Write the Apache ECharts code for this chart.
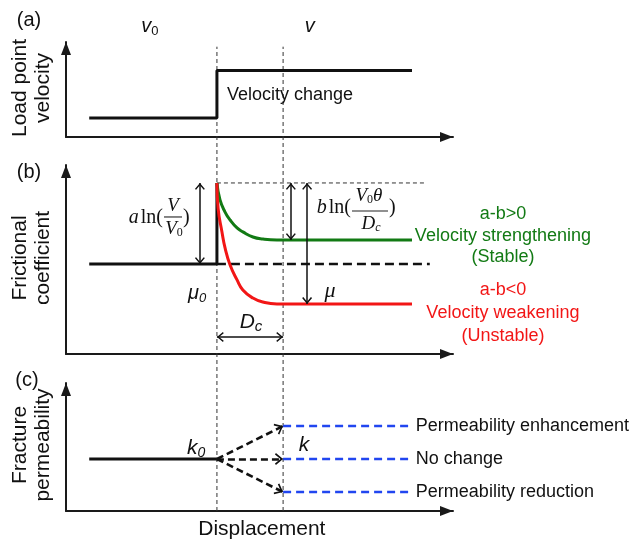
<!DOCTYPE html>
<html><head><meta charset="utf-8">
<script src="https://cdn.jsdelivr.net/npm/echarts@6/dist/echarts.min.js"></script>
<style>html,body{margin:0;padding:0;background:#fff}#c{width:633px;height:543px}</style>
</head><body><div id="c"></div>
<script>
// ---------------- data (schematic values) ----------------
const velocityX = [6, 39, 39, 89.4];
const velocityY = [2, 2, 7, 7];
const frictionBaseX = [6, 39, 39];
const frictionBaseY = [4.76, 4.76, 9.05];
const frictionRefX = [39, 94];
const frictionRefY = [4.76, 4.76];
const peakRefX = [39, 93];
const peakRefY = [9.05, 9.05];
const strengtheningX = [39, 39.8, 41.1, 42.4, 44.2, 45.7, 48.3, 50.9, 54.5, 56.1, 89.4];
const strengtheningY = [9.05, 8.15, 7.51, 7.09, 6.67, 6.46, 6.19, 6.08, 6.03, 6.03, 6.03];
const weakeningX = [39, 39.3, 40.3, 41.1, 42.4, 44.2, 45.7, 48.3, 50.9, 54.5, 56.1, 89.4];
const weakeningY = [9.05, 7.72, 6.46, 5.61, 4.71, 3.92, 3.39, 2.96, 2.75, 2.65, 2.65, 2.65];
const permBaseX = [6, 39];
const permBaseY = [4.06, 4.06];
const permOutcomeNames = ['Permeability enhancement', 'No change', 'Permeability reduction'];
const permOutcomeX = [56.1, 89.4];
const permOutcomeY = [6.64, 4.06, 1.48];
const markerX = [39, 56.1];          // velocity step and Dc
const frictionArrowX = [34.6, 58.1, 62.3];
const dcArrowY = 0.9;

// ---------------- styling ----------------
const GREEN = '#127a14', RED = '#f21616', BLUE = '#2146f0', INK = '#111';
const SANS = '"Liberation Sans", Arial, sans-serif';
const SERIF = '"Liberation Serif", "Times New Roman", serif';
const zip = (xs, ys) => xs.map((x, i) => [x, ys[i]]);
const chev = 'path://M5,-6.8L5,-6.8Z M0,6L5,0L10,6L8.8,6.8L5,2.2L1.2,6.8Z';

const chart = echarts.init(document.getElementById('c'), null, {renderer: 'canvas'});
const grids = [
  {left: 66, top: 42, width: 387, height: 95},
  {left: 66, top: 165, width: 387, height: 189},
  {left: 66, top: 383, width: 387, height: 128},
  {left: 66, top: 42, width: 387, height: 469}
];
const axLine = {show: true, onZero: false, symbol: ['none', 'triangle'], symbolSize: [10, 13], symbolOffset: [0, -6.5],
  lineStyle: {color: '#1a1a1a', width: 2}};
const hidden = {show: false};
const xAxis = grids.map((g, i) => ({gridIndex: i, type: 'value', min: 0, max: 100,
  axisLine: i < 3 ? axLine : hidden, axisTick: hidden, axisLabel: hidden, splitLine: hidden}));
const yAxis = grids.map((g, i) => ({gridIndex: i, type: 'value', min: 0, max: i < 3 ? 10 : 100,
  axisLine: i < 3 ? axLine : hidden, axisTick: hidden, axisLabel: hidden, splitLine: hidden}));

const line = (g, data, color, width, type, extra) => Object.assign({
  type: 'line', xAxisIndex: g, yAxisIndex: g, data, symbol: 'none', silent: true, z: 3,
  lineStyle: {color, width, type: type || 'solid', cap: 'butt'}
}, extra || {});

const peak = frictionBaseY[2], base = frictionBaseY[0];
const steadyG = strengtheningY[strengtheningY.length - 1], steadyR = weakeningY[weakeningY.length - 1];

const series = [
  // vertical markers across all panels
  line(3, [[markerX[0], 0], [markerX[0], 99]], '#333', 1, [4, 3], {z: 1}),
  line(3, [[markerX[1], 0], [markerX[1], 99]], '#333', 1, [4, 3], {z: 1}),
  // (a)
  line(0, zip(velocityX, velocityY), INK, 3),
  // (b)
  line(1, zip(frictionRefX, frictionRefY), INK, 2.6, [9, 5]),
  line(1, zip(peakRefX, peakRefY), '#333', 1, [4, 3], {
    markLine: {silent: true, symbol: [chev, chev], symbolSize: [10, 13.6], label: {show: false},
      lineStyle: {color: INK, width: 1.5, type: 'solid'}, emphasis: {disabled: true},
      data: [
        [{coord: [frictionArrowX[0], peak]}, {coord: [frictionArrowX[0], base]}],
        [{coord: [frictionArrowX[1], peak]}, {coord: [frictionArrowX[1], steadyG]}],
        [{coord: [frictionArrowX[2], peak]}, {coord: [frictionArrowX[2], steadyR]}],
        [{coord: [markerX[0], dcArrowY]}, {coord: [markerX[1], dcArrowY]}]
      ]}
  }),
  line(1, zip(frictionBaseX, frictionBaseY), INK, 3),
  line(1, zip(strengtheningX, strengtheningY), GREEN, 3, 'solid', {smooth: 0.5}),
  line(1, zip(weakeningX, weakeningY), RED, 3, 'solid', {smooth: 0.5}),
  // (c)
  line(2, zip(permBaseX, permBaseY), INK, 3, 'solid', {
    markLine: {silent: true, symbol: ['none', chev], symbolSize: [12, 16.3], label: {show: false},
      lineStyle: {color: INK, width: 2.6, type: [7, 4]}, emphasis: {disabled: true},
      data: permOutcomeY.map(y => [{coord: [permBaseX[1], permBaseY[1]]}, {coord: [permOutcomeX[0], y]}])}
  }),
  ...permOutcomeY.map(y => line(2, [[permOutcomeX[0], y], [permOutcomeX[1], y]], BLUE, 2.6, [8, 5]))
];

chart.setOption({animation: false, grid: grids, xAxis, yAxis, series});

// ---------------- text annotations ----------------
const P = (g, x, y) => chart.convertToPixel({xAxisIndex: g, yAxisIndex: g}, [x, y]);
const mctx = document.createElement('canvas').getContext('2d');
function measure(p) {
  mctx.font = (p.it ? 'italic ' : '') + p.size + 'px ' + (p.fam || SANS);
  return mctx.measureText(p.t).width;
}
function runs(cx, cy, parts, anchor, fill) {
  const ws = parts.map(p => measure(p) + (p.dx || 0));
  const total = ws.reduce((a, b) => a + b, 0);
  let x = anchor === 'right' ? cx - total : anchor === 'left' ? cx : cx - total / 2;
  return parts.map((p, i) => {
    const el = {type: 'text', silent: true, z: 100, x: x + (p.dx || 0), y: cy + (p.dy || 0),
      style: {text: p.t, fontSize: p.size, fontStyle: p.it ? 'italic' : 'normal', fontFamily: p.fam || SANS,
        fill: fill || INK, align: 'left', verticalAlign: 'middle'}};
    x += ws[i];
    return el;
  });
}
function txt(x, y, text, opt) {
  return {type: 'text', silent: true, z: 100, x, y,
    style: Object.assign({text, fontFamily: SANS, fontSize: 18, fill: INK, align: 'center', verticalAlign: 'middle'}, opt || {})};
}
function bar(x1, x2, y) {
  return {type: 'line', silent: true, z: 100, shape: {x1, y1: y, x2, y2: y}, style: {stroke: '#222', lineWidth: 1.1}};
}

const g = [];
// panel labels and axis titles
g.push(txt(29, 20, '(a)', {fontSize: 20}));
g.push(txt(29, 172, '(b)', {fontSize: 20}));
g.push(txt(27, 380, '(c)', {fontSize: 20}));
[['Load point\nvelocity', 88], ['Frictional\ncoefficient', 258], ['Fracture\npermeability', 445]].forEach(([t, y]) => {
  g.push({type: 'text', silent: true, z: 100, x: 32, y, rotation: Math.PI / 2,
    style: {text: t, fontFamily: SANS, fontSize: 21, lineHeight: 23, fill: INK, align: 'center', verticalAlign: 'middle'}});
});

// (a)
let p = P(0, 21.7, 11.6);
g.push(...runs(p[0], p[1], [{t: 'v', size: 20, it: true}, {t: '0', size: 13, dy: 5}]));
p = P(0, 63, 11.6);
g.push(...runs(p[0], p[1], [{t: 'v', size: 20, it: true}]));
p = P(0, 41.6, 4.4);
g.push(txt(p[0], p[1], 'Velocity change', {align: 'left'}));

// (b) formula a ln(V/V0)
let a = P(1, 27.65, 7.25);
g.push(...runs(a[0] - 10, a[1] + 1, [{t: 'a', size: 20, it: true, fam: SERIF}, {t: 'ln(', size: 20, fam: SERIF, dx: 2}], 'right'));
g.push(...runs(a[0], a[1] - 11, [{t: 'V', size: 19, it: true, fam: SERIF}]));
g.push(bar(a[0] - 9, a[0] + 9, a[1]));
g.push(...runs(a[0] + 1, a[1] + 12, [{t: 'V', size: 19, it: true, fam: SERIF}, {t: '0', size: 12, fam: SERIF, dy: 4}]));
g.push(...runs(a[0] + 10, a[1] + 1, [{t: ')', size: 20, fam: SERIF}], 'left'));
// formula b ln(V0θ/Dc)
a = P(1, 78.55, 7.57);
g.push(...runs(a[0] - 19, a[1] - 3, [{t: 'b', size: 20, it: true, fam: SERIF}, {t: 'ln(', size: 20, fam: SERIF, dx: 2}], 'right'));
g.push(...runs(a[0] - 1, a[1] - 15, [{t: 'V', size: 19, it: true, fam: SERIF}, {t: '0', size: 12, fam: SERIF, dy: 4}, {t: 'θ', size: 19, it: true, fam: SERIF}]));
g.push(bar(a[0] - 18, a[0] + 18, a[1]));
g.push(...runs(a[0] + 1, a[1] + 13, [{t: 'D', size: 19, it: true, fam: SERIF}, {t: 'c', size: 12, it: true, fam: SERIF, dy: 4}]));
g.push(...runs(a[0] + 19, a[1] - 3, [{t: ')', size: 20, fam: SERIF}], 'left'));
// mu0, mu, Dc
p = P(1, 33.9, 3.23);
g.push(...runs(p[0], p[1], [{t: 'μ', size: 20, it: true}, {t: '0', size: 13, it: true, dy: 5}]));
p = P(1, 68.2, 3.33);
g.push(...runs(p[0], p[1], [{t: 'μ', size: 22, it: true, fam: SERIF}]));
p = P(1, 47.8, 1.69);
g.push(...runs(p[0], p[1], [{t: 'D', size: 21, it: true}, {t: 'c', size: 15, it: true, dy: 5}]));
// regime labels
[['a-b>0', 7.41, GREEN], ['Velocity strengthening', 6.24, GREEN], ['(Stable)', 5.13, GREEN],
 ['a-b<0', 3.39, RED], ['Velocity weakening', 2.17, RED], ['(Unstable)', 0.95, RED]].forEach(([t, y, c]) => {
  const q = P(1, 112.9, y);
  g.push(txt(q[0], q[1], t, {fill: c}));
});

// (c)
p = P(2, 33.6, 4.92);
g.push(...runs(p[0], p[1], [{t: 'k', size: 21, it: true}, {t: '0', size: 14, it: true, dy: 5}]));
p = P(2, 61.5, 5.16);
g.push(...runs(p[0], p[1], [{t: 'k', size: 21, it: true}]));
permOutcomeNames.forEach((t, i) => {
  const q = P(2, permOutcomeX[1] + 1, permOutcomeY[i]);
  g.push(txt(q[0], q[1], t, {align: 'left'}));
});
p = P(2, 50.6, -1.4);
g.push(txt(p[0], p[1], 'Displacement', {fontSize: 21}));

chart.setOption({graphic: g});
</script>
</body></html>
